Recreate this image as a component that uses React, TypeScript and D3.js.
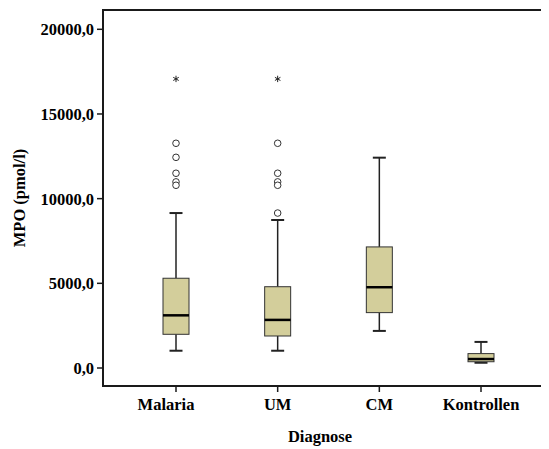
import React, { useEffect } from 'react';
import * as d3 from 'd3';

// values (pmol/l)
const categories = ['Malaria', 'UM', 'CM', 'Kontrollen'];
const whiskerLow = [1020, 1020, 2190, 310];
const q1 = [1990, 1890, 3270, 370];
const median = [3110, 2840, 4770, 530];
const q3 = [5300, 4800, 7150, 850];
const whiskerHigh = [9150, 8740, 12420, 1540];
const outliers = [
  [13270, 12440, 11500, 10990, 10790],
  [13270, 11500, 10990, 10790, 9150],
  [],
  [],
];
const extremes = [[17070], [17070], [], []];
const yTicks = [0, 5000, 10000, 15000, 20000];

const W = 549;
const H = 449;
const frame = { left: 103, top: 10, right: 541, bottom: 386 };
const txt = {
  fontFamily: '"Liberation Serif", "DejaVu Serif", serif',
  fontWeight: 700,
  fontSize: 16.5,
};
// the first category label sits a bit left of its tick in the original
const labelDx: Record<string, number> = { Malaria: -10 };

const App = () => {
  useEffect(() => {
    document.body.style.margin = '0';
    document.body.style.overflow = 'hidden';
    document.documentElement.style.overflow = 'hidden';
  }, []);

  const y = d3.scaleLinear().domain([0, 20000]).range([368, 29.3]);
  const x = d3.scalePoint<string>().domain(categories).range([176, 481]);
  const boxW = 26;
  const capW = 13;
  const star = d3.symbol().type(d3.symbolAsterisk).size(28)();

  return (
    <svg width={W} height={H} style={{ display: 'block', background: '#fff' }}>
      <path
        d={`M${frame.right},${frame.top}H${frame.left}V${frame.bottom}H${frame.right}`}
        fill="none"
        stroke="#1a1a1a"
        strokeWidth={2}
      />

      {yTicks.map((t) => (
        <g key={t}>
          <line x1={frame.left - 6} x2={frame.left} y1={y(t)} y2={y(t)} stroke="#1a1a1a" strokeWidth={1.5} />
          <text x={frame.left - 9} y={y(t) + 6} textAnchor="end" style={txt}>
            {d3.format('.1f')(t).replace('.', ',')}
          </text>
        </g>
      ))}
      <text transform="translate(25,198) rotate(-90)" textAnchor="middle" style={txt}>
        MPO (pmol/l)
      </text>

      {categories.map((c) => (
        <g key={c}>
          <line x1={x(c)} x2={x(c)} y1={frame.bottom} y2={frame.bottom + 6} stroke="#1a1a1a" strokeWidth={1.5} />
          <text x={(x(c) as number) + (labelDx[c] ?? 0)} y={410} textAnchor="middle" style={txt}>
            {c}
          </text>
        </g>
      ))}
      <text x={320} y={442} textAnchor="middle" style={txt}>
        Diagnose
      </text>

      {categories.map((c, i) => {
        const cx = x(c) as number;
        return (
          <g key={c}>
            <line x1={cx} x2={cx} y1={y(whiskerHigh[i])} y2={y(q3[i])} stroke="#222" strokeWidth={1.5} />
            <line x1={cx} x2={cx} y1={y(q1[i])} y2={y(whiskerLow[i])} stroke="#222" strokeWidth={1.5} />
            <line x1={cx - capW / 2} x2={cx + capW / 2} y1={y(whiskerHigh[i])} y2={y(whiskerHigh[i])} stroke="#222" strokeWidth={2} />
            <line x1={cx - capW / 2} x2={cx + capW / 2} y1={y(whiskerLow[i])} y2={y(whiskerLow[i])} stroke="#222" strokeWidth={2} />
            <rect
              x={cx - boxW / 2}
              y={y(q3[i])}
              width={boxW}
              height={y(q1[i]) - y(q3[i])}
              fill="#d3ce9b"
              stroke="#333"
              strokeWidth={1}
            />
            <line x1={cx - boxW / 2} x2={cx + boxW / 2} y1={y(median[i])} y2={y(median[i])} stroke="#000" strokeWidth={2.5} />
            {outliers[i].map((v, j) => (
              <circle key={j} cx={cx} cy={y(v)} r={3.3} fill="#fff" stroke="#333" strokeWidth={1} />
            ))}
            {extremes[i].map((v, j) => (
              <path key={j} d={star ?? ''} transform={`translate(${cx},${y(v)})`} stroke="#222" strokeWidth={1} />
            ))}
          </g>
        );
      })}
    </svg>
  );
};

export default App;
